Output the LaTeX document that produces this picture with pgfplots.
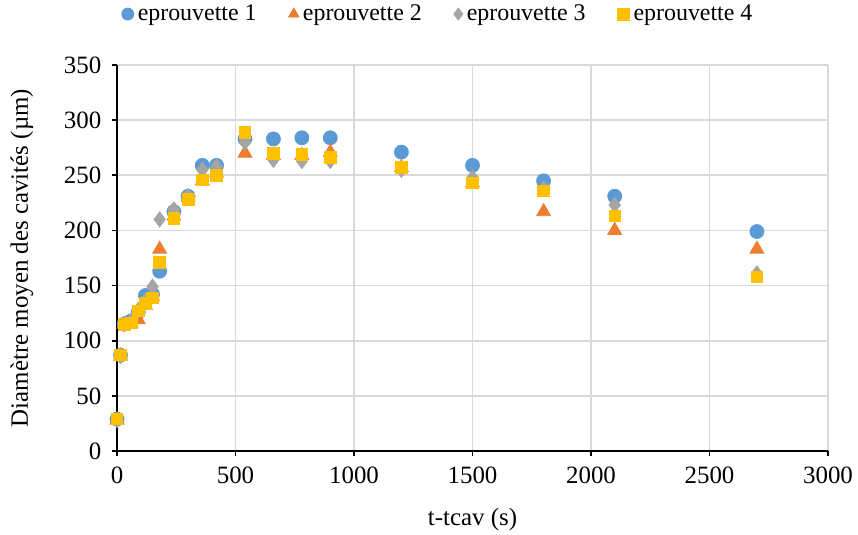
\documentclass[border=0pt]{standalone}
\usepackage{pgfplots}
\pgfplotsset{compat=1.18}
\usepackage{fontspec}
\setmainfont{Liberation Serif}
\definecolor{c1}{HTML}{5B9BD5}
\definecolor{c2}{HTML}{ED7D31}
\definecolor{c3}{HTML}{A5A5A5}
\definecolor{c4}{HTML}{FFC000}
\definecolor{gridc}{HTML}{D9D9D9}
\begin{document}
\fontsize{12.5}{14}\selectfont
\begin{tikzpicture}
\useasboundingbox (-58.5bp,-42bp) rectangle (370.5bp,225.5bp);
\begin{axis}[
  at={(0,0)}, anchor=origin,
  scale only axis, width=355.5bp, height=193bp,
  xmin=0, xmax=3000, ymin=0, ymax=350,
  xtick={0,500,...,3000}, ytick={0,50,...,350},
  axis x line*=bottom, axis y line*=left,
  axis line style={black, line width=0.8bp, -},
  tick align=outside, major tick length=2.5bp,
  tick style={black, line width=0.8bp},
  grid=major, grid style={gridc, line width=0.8bp},
  /pgf/number format/assume math mode=true,
  /pgf/number format/1000 sep={},
  ticklabel style={font=\rmfamily\fontsize{12.5}{14}\selectfont},
  xticklabel style={yshift=-1bp},
  yticklabel style={xshift=-1bp},
  xlabel={t-tcav (s)}, ylabel={Diamètre moyen des cavités (µm)},
  label style={font=\rmfamily\fontsize{12.5}{14}\selectfont},
  xlabel style={at={(axis description cs:0.5,0)}, yshift=-34.5bp, anchor=center},
  ylabel style={at={(axis description cs:-0.1336,0.5)}, anchor=center},
  legend columns=4,
  legend style={draw=none, at={(0.453,1.132)}, anchor=center, font=\rmfamily\fontsize{12}{14}\selectfont,
    inner sep=0pt,
    /tikz/every even column/.append style={column sep=14bp},
    /tikz/every odd column/.append style={column sep=0bp}},
  legend image code/.code={\draw[#1, mark size=3bp] plot coordinates {(0bp,0bp)};},
  clip=false,
]
\addplot[only marks, mark=*, mark size=3.5bp, color=c1, mark options={draw=c1, fill=c1}] coordinates {
(0,29)(15,87)(30,115)(60,118)(90,126)(120,141)(150,142)(180,163)(240,217)(300,231)(360,259)(420,259)(540,283)(660,283)(780,284)(900,284)(1200,271)(1500,259)(1800,245)(2100,231)(2700,199)};
\addlegendentry{eprouvette 1}
\addplot[only marks, mark=triangle*, mark size=4bp, color=c2, mark options={draw=c2, fill=c2}] coordinates {
(0,28)(15,86)(30,115)(60,116)(90,119)(120,132)(150,140)(180,183)(240,213)(300,230)(360,245)(420,252)(540,270)(660,268)(780,268)(900,271)(1200,257)(1500,243)(1800,217)(2100,200)(2700,183)};
\addlegendentry{eprouvette 2}
\addplot[only marks, mark=diamond*, mark size=3.8bp, color=c3, mark options={draw=c3, fill=c3}] coordinates {
(0,28)(15,86)(30,115)(60,118)(90,128)(120,136)(150,149)(180,210)(240,219)(300,231)(360,255)(420,258)(540,280)(660,264)(780,263)(900,263)(1200,255)(1500,248)(1800,238)(2100,223)(2700,161)};
\addlegendentry{eprouvette 3}
\addplot[only marks, mark=square*, mark size=2.9bp, color=c4, mark options={draw=c4, fill=c4}] coordinates {
(0,29)(15,87)(30,115)(60,116)(90,127)(120,134)(150,139)(180,171)(240,211)(300,228)(360,246)(420,250)(540,289)(660,270)(780,269)(900,266)(1200,257)(1500,243)(1800,236)(2100,213)(2700,158)};
\addlegendentry{eprouvette 4}
\end{axis}
\end{tikzpicture}
\end{document}
